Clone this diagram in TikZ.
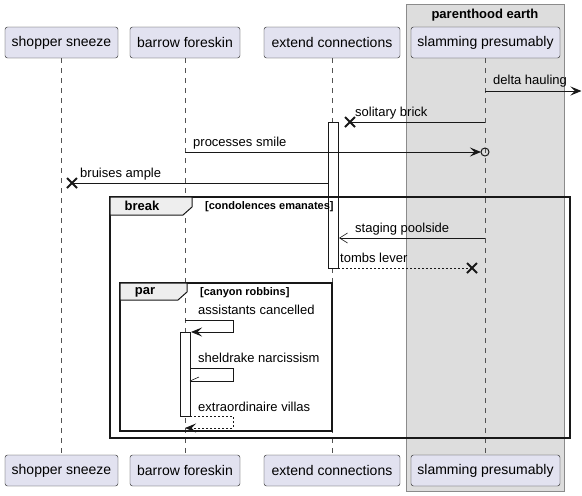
\documentclass[tikz,border=0pt]{standalone}
\usepackage{fontspec}
\setmainfont{Liberation Sans}
\usetikzlibrary{positioning, arrows.meta}
\definecolor{partfill}{HTML}{E2E2F0}
\definecolor{grpfill}{HTML}{DDDDDD}
\definecolor{tabfill}{HTML}{EEEEEE}
\definecolor{ink}{HTML}{181818}

\tikzset{
  part/.style={draw=ink, fill=partfill, rounded corners=2.5pt, minimum height=31pt, inner sep=0pt, font=\fontsize{14}{16}\selectfont},
  life/.style={draw=ink!75, line width=0.5pt, dash pattern=on 5pt off 5pt},
  msg/.style={draw=ink, line width=1pt},
  reply/.style={msg, dash pattern=on 2pt off 2pt},
  lbl/.style={anchor=base west, inner sep=0pt, font=\fontsize{13}{15}\selectfont},
  fill tip/.style={-{Stealth[length=11pt, width=9pt, inset=4.5pt]}},
  open tip/.style={-{Straight Barb[length=8pt, width=10pt, line width=0.6pt]}},
  activ/.style={draw=ink, fill=white, line width=1pt},
  frm/.style={draw=ink, line width=1.5pt},
  tab/.style={draw=ink, fill=tabfill, line width=1pt},
  kw/.style={inner sep=0pt, font=\bfseries\fontsize{13}{15}\selectfont},
  cond/.style={anchor=west, inner sep=0pt, font=\bfseries\fontsize{11}{13}\selectfont},
  kill/.style={draw=ink, line width=2pt}
}
\newcommand{\killmark}[1]{\draw[kill] ([shift={(-5,-5)}]#1) -- ([shift={(5,5)}]#1) ([shift={(-5,5)}]#1) -- ([shift={(5,-5)}]#1);}

\begin{document}
\begin{tikzpicture}[x=1pt, y=-1pt]
\useasboundingbox (0,0) rectangle (582,496);

% box round the last participant
\draw[draw=ink!50, fill=grpfill, line width=1pt] (406,4) rectangle (564,491);
\node[inner sep=0pt, font=\bfseries\fontsize{13}{15}\selectfont] (grp) at (485,15) {parenthood earth};

% participants, top and bottom
\node[part, minimum width=113pt] (shop) at (61.5,42.5) {shopper sneeze};
\node[part, minimum width=110pt] (barrow) at (185,42.5) {barrow foreskin};
\node[part, minimum width=136pt] (ext) at (332,42.5) {extend connections};
\node[part, minimum width=149pt] (slam) at (485.5,42.5) {slamming presumably};
\node[part, minimum width=113pt] (shopB) at (61.5,470.5) {shopper sneeze};
\node[part, minimum width=110pt] (barrowB) at (185,470.5) {barrow foreskin};
\node[part, minimum width=136pt] (extB) at (332,470.5) {extend connections};
\node[part, minimum width=149pt] (slamB) at (485.5,470.5) {slamming presumably};

\path[life] (shop) -- (shopB);
\path[life] (barrow) -- (barrowB);
\path[life] (ext) -- (extB);
\path[life] (slam) -- (slamB);

% activations
\draw[activ] (328,122) rectangle (338,268);
\draw[activ] (180,332) rectangle (190,416);

% frames
\draw[frm] (110,197) rectangle (570,438);
\draw[tab] (110,197) -- (192,197) -- (192,207) -- (183,215) -- (110,215) -- cycle;
\node[kw] (brk) at (142,206) {break};
\node[cond] (brkc) at (205,207) {[condolences emanates]};
\draw[frm] (120,283) rectangle (332,431);
\draw[tab] (120,283) -- (187,283) -- (187,292) -- (178,300) -- (120,300) -- cycle;
\node[kw] (par) at (145,292) {par};
\node[cond] (parc) at (200,293) {[canyon robbins]};

% end points of the messages
\coordinate (d1) at (485,91);   \coordinate (d2) at (581.5,91);
\coordinate (s1) at (485,122);  \coordinate (s2) at (350,122);
\coordinate (p1) at (185,152);  \coordinate (p2) at (481,152);
\coordinate (o1) at (485,152);
\coordinate (b1) at (328,183);  \coordinate (b2) at (72,183);
\coordinate (g1) at (485,238);  \coordinate (g2) at (339,238);
\coordinate (t1) at (338,268);  \coordinate (t2) at (472,268);
\coordinate (a1) at (185,320);  \coordinate (a2) at (191,332);
\coordinate (h1) at (190,368);  \coordinate (h2) at (190,381);
\coordinate (e1) at (190,416);  \coordinate (e2) at (185,428);

% messages
\draw[msg, fill tip] (d1) -- (d2);
\node[lbl] (dl) at (493,84) {delta hauling};
\draw[msg] (s1) -- (s2);
\killmark{s2}
\node[lbl] (sl) at (355,116) {solitary brick};
\draw[msg, fill tip] (p1) -- (p2);
\draw[ink, line width=1pt] (o1) circle (4);
\node[lbl] (pl) at (193,146) {processes smile};
\draw[msg] (b1) -- (b2);
\killmark{b2}
\node[lbl] (bl) at (80,177) {bruises ample};
\draw[msg, open tip] (g1) -- (g2);
\node[lbl] (gl) at (355,232) {staging poolside};
\draw[reply] (t1) -- (t2);
\killmark{t2}
\node[lbl] (tl) at (340,262) {tombs lever};
\draw[msg, fill tip] (a1) -- (233,320) -- (233,332) -- (a2);
\node[lbl] (al) at (198,314) {assistants cancelled};
\draw[msg] (h1) -- (233,368) -- (233,381) -- (h2);
\draw[ink, line width=0.6pt] (h2) -- ++(9,-4);
\node[lbl] (hl) at (198,362) {sheldrake narcissism};
\draw[reply, fill tip] (e1) -- (233,416) -- (233,428) -- (e2);
\node[lbl] (el) at (198,411) {extraordinaire villas};
\end{tikzpicture}
\end{document}
